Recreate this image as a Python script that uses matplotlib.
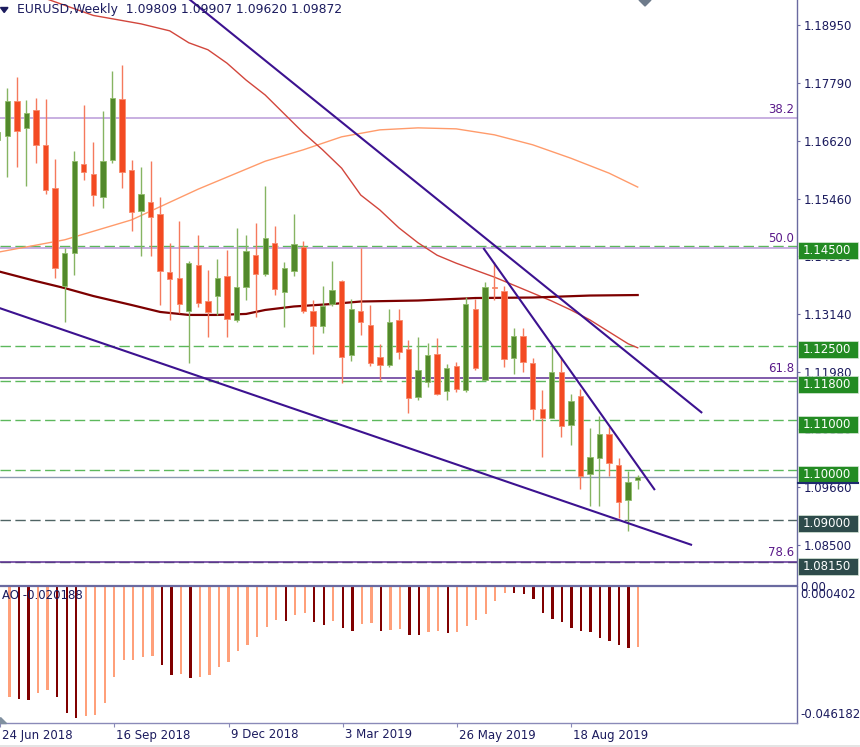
import matplotlib
matplotlib.use("Agg")
import matplotlib.pyplot as plt
from matplotlib.patches import Rectangle, Polygon
from matplotlib.transforms import blended_transform_factory, ScaledTranslation

plt.rcParams['font.family'] = ['DejaVu Sans']
plt.rcParams['lines.scale_dashes'] = False

W, H, DPI = 860, 747, 100

# ---------------- data ----------------
title_text = "EURUSD,Weekly"
header_ohlc = ["1.09809", "1.09907", "1.09620", "1.09872"]

weeks = list(range(68))
opens = [1.1664, 1.1672, 1.1741, 1.1688, 1.1723, 1.1653, 1.1567, 1.1370, 1.1437, 1.1615,
         1.1595, 1.1550, 1.1623, 1.1746, 1.1603, 1.1521, 1.1538, 1.1515, 1.1398, 1.1386,
         1.1319, 1.1412, 1.1340, 1.1351, 1.1390, 1.1302, 1.1368, 1.1432, 1.1394, 1.1457,
         1.1359, 1.1400, 1.1449, 1.1319, 1.1290, 1.1334, 1.1381, 1.1231, 1.1320, 1.1292,
         1.1227, 1.1211, 1.1302, 1.1244, 1.1148, 1.1178, 1.1233, 1.1159, 1.1209, 1.1161,
         1.1323, 1.1181, 1.1369, 1.1361, 1.1226, 1.1270, 1.1215, 1.1123, 1.1104, 1.1198,
         1.1091, 1.1149, 1.0992, 1.1024, 1.1072, 1.1010, 1.0940, 1.09809]
highs = [1.1694, 1.1768, 1.1791, 1.1744, 1.1749, 1.1747, 1.1625, 1.1447, 1.1642, 1.1734,
         1.1660, 1.1722, 1.1802, 1.1814, 1.1623, 1.1610, 1.1621, 1.1550, 1.1457, 1.1501,
         1.1420, 1.1473, 1.1402, 1.1424, 1.1443, 1.1486, 1.1473, 1.1496, 1.1571, 1.1491,
         1.1419, 1.1515, 1.1461, 1.1342, 1.1370, 1.1420, 1.1382, 1.1344, 1.1447, 1.1332,
         1.1254, 1.1324, 1.1324, 1.1262, 1.1267, 1.1255, 1.1265, 1.1213, 1.1217, 1.1349,
         1.1345, 1.1379, 1.1419, 1.1370, 1.1286, 1.1285, 1.1225, 1.1161, 1.1252, 1.1228,
         1.1153, 1.1163, 1.1084, 1.1109, 1.1086, 1.1025, 1.0999, 1.09907]
lows = [1.1654, 1.1589, 1.1610, 1.1571, 1.1617, 1.1556, 1.1386, 1.1298, 1.1392, 1.1583,
        1.1530, 1.1526, 1.1618, 1.1568, 1.1481, 1.1431, 1.1431, 1.1332, 1.1302, 1.1315,
        1.1215, 1.1327, 1.1268, 1.1312, 1.1268, 1.1298, 1.1342, 1.1308, 1.1390, 1.1352,
        1.1288, 1.1390, 1.1316, 1.1233, 1.1275, 1.1329, 1.1175, 1.1220, 1.1272, 1.1209,
        1.1181, 1.1208, 1.1223, 1.1115, 1.1141, 1.1167, 1.1151, 1.1141, 1.1157, 1.1158,
        1.1201, 1.1181, 1.1342, 1.1207, 1.1193, 1.1198, 1.1101, 1.1026, 1.1104, 1.1066,
        1.1051, 1.0963, 1.0927, 1.0927, 1.0989, 1.0903, 1.0878, 1.09620]
closes = [1.1680, 1.1743, 1.1682, 1.1717, 1.1653, 1.1563, 1.1407, 1.1437, 1.1621, 1.1600,
          1.1553, 1.1621, 1.1749, 1.1599, 1.1518, 1.1556, 1.1509, 1.1401, 1.1385, 1.1333,
          1.1417, 1.1335, 1.1317, 1.1387, 1.1303, 1.1368, 1.1441, 1.1394, 1.1466, 1.1364,
          1.1406, 1.1455, 1.1320, 1.1290, 1.1329, 1.1362, 1.1228, 1.1324, 1.1298, 1.1215,
          1.1211, 1.1297, 1.1238, 1.1145, 1.1201, 1.1231, 1.1154, 1.1205, 1.1164, 1.1334,
          1.1206, 1.1368, 1.1367, 1.1223, 1.1270, 1.1218, 1.1123, 1.1105, 1.1198, 1.1089,
          1.1139, 1.0988, 1.1026, 1.1072, 1.1015, 1.0937, 1.0977, 1.09872]

ac_weeks = list(range(1, 68))
ac_values = [-0.03723, -0.03811, -0.03835, -0.03587, -0.03495, -0.03743, -0.04287, -0.04437,
             -0.04369, -0.04355, -0.03927, -0.03063, -0.02475, -0.02468, -0.02383, -0.02339,
             -0.02645, -0.02985, -0.02961, -0.03077, -0.03053, -0.02985, -0.02723, -0.02533,
             -0.02159, -0.01965, -0.01683, -0.01343, -0.01115, -0.01139, -0.00945, -0.00867,
             -0.01173, -0.01285, -0.01149, -0.01377, -0.01489, -0.01241, -0.01234, -0.01479,
             -0.01465, -0.01421, -0.01615, -0.01625, -0.01523, -0.01489, -0.01567, -0.01513,
             -0.01309, -0.01115, -0.00911, -0.00469, -0.00187, -0.00197, -0.00221, -0.00401,
             -0.00887, -0.01071, -0.01183, -0.01377, -0.01479, -0.01513, -0.01717, -0.01829,
             -0.01975, -0.02077, -0.020188]
ac_label = "AO -0.020188"
ac_top, ac_bottom = 0.000402, -0.046182

# moving averages
ma_slow_x = [0, 7, 14, 21, 28, 32, 36, 40, 44, 48, 52, 56, 60, 64, 67]
ma_slow_y = [1.1438, 1.1463, 1.1503, 1.1565, 1.1621, 1.1644, 1.1670, 1.1684, 1.1688,
             1.1686, 1.1674, 1.1654, 1.1627, 1.1597, 1.1569]
ma_fast_x = [4, 5, 10, 15, 18, 20, 22, 24, 26, 28, 30, 32, 34, 36, 38, 40, 42, 44, 46,
             48, 50, 52, 54, 56, 58, 60, 62, 64, 66, 67]
ma_fast_y = [1.1955, 1.1948, 1.1914, 1.1897, 1.1883, 1.1859, 1.1845, 1.1818, 1.1784,
             1.1754, 1.1716, 1.1678, 1.1644, 1.1607, 1.1553, 1.1523, 1.1487, 1.1457,
             1.1432, 1.1416, 1.1402, 1.1388, 1.1372, 1.1356, 1.1340, 1.1322, 1.1302,
             1.1278, 1.1254, 1.1246]
ma_long_x = [0, 4, 7, 10, 14, 17, 20, 23, 26, 28, 31, 35, 38, 44, 50, 56, 62, 67]
ma_long_y = [1.1400, 1.1380, 1.1366, 1.1350, 1.1332, 1.1318, 1.1312, 1.1312, 1.1314,
             1.1322, 1.1329, 1.1334, 1.1339, 1.1341, 1.1346, 1.1347, 1.1351, 1.1352]

trend_lines = [((19.5, 1.1955), (73.75, 1.1115)),
               ((50.84, 1.14465), (68.8, 1.0960)),
               ((0.0, 1.1327), (72.69, 1.08495))]

fib_high, fib_low = 1.25499, 1.03432
fib_ratios = [38.2, 50.0, 61.8, 78.6]
fib_colors = ['#b99ad8', '#b99ad8', '#5e2f94', '#5e2f94']
green_levels = [1.14500, 1.12500, 1.11800, 1.11000, 1.10000]
gray_levels = [1.09000, 1.08150]
bid_price = 1.09872

price_ticks = [1.18950, 1.17790, 1.16620, 1.15460, 1.14300, 1.13140,
               1.11980, 1.10820, 1.09660, 1.08500]
date_ticks = [0, 12, 24, 36, 48, 60]
date_labels = ["24 Jun 2018", "16 Sep 2018", "9 Dec 2018", "3 Mar 2019",
               "26 May 2019", "18 Aug 2019"]

# ---------------- styling ----------------
TXT = '#1b1b5e'
AXC = '#6a6aa0'
GREEN_BODY, RED_BODY = '#52892b', '#f34a22'
GREEN_WICK, RED_WICK = '#86b462', '#f57a5c'
GREEN_EDGE, RED_EDGE = '#8fbc6a', '#f78a6c'
FS = 8.5

fig = plt.figure(figsize=(W / DPI, H / DPI), dpi=DPI)
fig.patch.set_facecolor('white')

def fx(x):
    return x / W

def fy(y):
    return 1 - y / H

ax = fig.add_axes([0, fy(584), fx(797), 584 / H])
ax_ac = fig.add_axes([0, fy(723), fx(797), (723 - 586) / H])

XL = (0.23, 83.68)
ax.set_xlim(*XL)
ax.set_ylim(1.07712, 1.1945)
ax_ac.set_xlim(*XL)
ax_ac.set_ylim(ac_bottom, ac_top)

for a in (ax, ax_ac):
    a.set_facecolor('white')
    for s in ('left', 'top', 'bottom'):
        a.spines[s].set_visible(False)
    a.spines['right'].set_color(AXC)
    a.spines['right'].set_linewidth(1.0)
    a.set_xticks([])

ax_ac.spines['top'].set_visible(True)
ax_ac.spines['top'].set_color(AXC)
ax_ac.spines['top'].set_linewidth(1.6)
ax_ac.spines['bottom'].set_visible(True)
ax_ac.spines['bottom'].set_color('#8a8ab8')
ax_ac.spines['bottom'].set_linewidth(1.0)

# ---- horizontal levels ----
for lv in green_levels:
    ax.axhline(lv, color='#5cb85c', lw=1.0, dashes=(7.5, 3.2), zorder=1)
for lv in gray_levels:
    ax.axhline(lv, color='#4f6464', lw=1.0, dashes=(7.5, 3.2), zorder=1)
for r, c in zip(fib_ratios, fib_colors):
    lv = fib_high - r / 100.0 * (fib_high - fib_low)
    ax.axhline(lv, color=c, lw=1.1, zorder=1.2)
    ax.annotate(f"{r:.1f}", xy=(1.0, lv), xycoords=('axes fraction', 'data'),
                xytext=(-2, 2), textcoords='offset points', ha='right', va='bottom',
                fontsize=FS, color='#5a1a8a')
ax.axhline(bid_price, color='#8b9bb0', lw=1.0, zorder=1.1)

# ---- moving averages ----
ax.plot(ma_slow_x, ma_slow_y, color='#ff9b6b', lw=1.0, zorder=2)
ax.plot(ma_fast_x, ma_fast_y, color='#d2463c', lw=1.0, zorder=2)
ax.plot(ma_long_x, ma_long_y, color='#7d0000', lw=1.6, zorder=2)

# ---- candles ----
for i, o, h, l, c in zip(weeks, opens, highs, lows, closes):
    up = c >= o
    ax.vlines(i, l, h, color=GREEN_WICK if up else RED_WICK, lw=1.0, zorder=3)
    bot = min(o, c)
    ht = max(abs(c - o), 0.00012)
    ax.add_patch(Rectangle((i - 0.28, bot), 0.56, ht,
                           facecolor=GREEN_BODY if up else RED_BODY,
                           edgecolor=GREEN_EDGE if up else RED_EDGE,
                           lw=0.6, zorder=4))

# ---- trend lines ----
for (x0, y0), (x1, y1) in trend_lines:
    ax.plot([x0, x1], [y0, y1], color='#3c1290', lw=1.5, zorder=5,
            solid_capstyle='butt')

# ---- right price axis ----
ax.yaxis.tick_right()
ax.set_yticks(price_ticks)
ax.set_yticklabels([f"{t:.5f}" for t in price_ticks])
ax.tick_params(axis='y', direction='out', length=2.5, width=0.8, color=AXC,
               pad=2.0, labelsize=FS, labelcolor=TXT)

# price boxes
fig.canvas.draw()
def level_px(lv):
    return H - ax.transData.transform((1, lv))[1]

for lv in green_levels + gray_levels:
    yp = level_px(lv) + 4
    col = '#238b23' if lv in green_levels else '#2e4b4b'
    fig.patches.append(Rectangle((fx(798), fy(yp + 8.5)), fx(60), 17 / H,
                                 transform=fig.transFigure, facecolor=col,
                                 edgecolor='#d8e8d8', lw=0.5, zorder=10))
    fig.text(fx(803), fy(yp), f"{lv:.5f}", fontsize=FS, color='white',
             va='center', ha='left', zorder=11)
yb = level_px(green_levels[-1]) + 12.5
fig.lines.append(plt.Line2D([fx(798), fx(858)], [fy(yb), fy(yb)],
                            transform=fig.transFigure, color='#1e2a6e', lw=1.5, zorder=12))

# ---- oscillator panel ----
ac_colors = []
prev = None
for v in ac_values:
    ac_colors.append('#ffa07a' if (prev is None or v >= prev) else '#800000')
    prev = v
ax_ac.bar(ac_weeks, ac_values, width=0.24, color=ac_colors, zorder=2)
ax_ac.set_yticks([])
ax_ac.set_xticks(date_ticks)
ax_ac.tick_params(axis='x', direction='out', length=3, width=0.8, color='#8a8ab8',
                  labelbottom=False)
ax_ac.text(0.003, 0.93, ac_label, transform=ax_ac.transAxes, fontsize=FS, color=TXT,
           ha='left', va='center', zorder=5)

fig.text(fx(800), fy(587.5), "0.00", fontsize=FS, color=TXT, va='center', ha='left')
fig.text(fx(800), fy(594), f"{ac_top:.6f}", fontsize=FS, color=TXT, va='center', ha='left')
fig.text(fx(800), fy(715), f"{ac_bottom:.6f}", fontsize=FS, color=TXT, va='center', ha='left')

# date labels
trans = blended_transform_factory(ax_ac.transData, fig.transFigure) + \
    ScaledTranslation(2.0 / DPI, 0, fig.dpi_scale_trans)
for t, lab in zip(date_ticks, date_labels):
    ax_ac.text(t, fy(735), lab, transform=trans, fontsize=FS, color=TXT,
               ha='left', va='center', clip_on=False)

# header
fig.text(fx(17), fy(9), f"{title_text}  " + " ".join(header_ohlc), fontsize=8.9,
         color=TXT, ha='left', va='center')
fig.patches.append(Polygon([(fx(0.5), fy(7.5)), (fx(8), fy(7.5)), (fx(4.2), fy(12.5))],
                           closed=True, transform=fig.transFigure, color=TXT, zorder=10))
# chart shift marker & small corner marker
fig.patches.append(Polygon([(fx(639), fy(0)), (fx(651), fy(0)), (fx(645), fy(6))],
                           closed=True, transform=fig.transFigure, color='#6e7b8b', zorder=10))
fig.patches.append(Polygon([(fx(0), fy(717)), (fx(0), fy(723)), (fx(6), fy(723))],
                           closed=True, transform=fig.transFigure, color='#8090a0', zorder=10))
fig.patches.append(Rectangle((0, 0), 1, 2.5 / H, transform=fig.transFigure,
                             facecolor='#e4e4e4', edgecolor='none', zorder=0))

fig.savefig("out.png", dpi=DPI)
